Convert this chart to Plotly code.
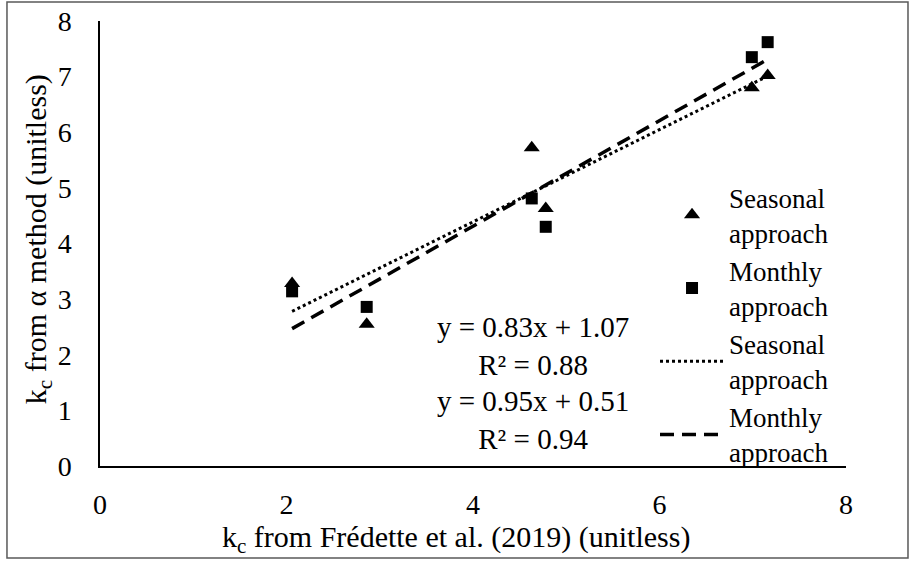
import plotly.graph_objects as go

# Data
x_points = [2.06, 2.86, 4.63, 4.78, 6.99, 7.16]
y_seasonal = [3.28, 2.55, 5.72, 4.63, 6.80, 7.02]
y_monthly = [3.14, 2.86, 4.81, 4.30, 7.35, 7.62]

trend_x = [2.06, 7.16]
trend_seasonal = [2.78, 7.01]
trend_monthly = [2.47, 7.31]

eq_seasonal = "y = 0.83x + 1.07<br>R² = 0.88"
eq_monthly = "y = 0.95x + 0.51<br>R² = 0.94"

x_title = "k<sub>c</sub> from Frédette et al. (2019) (unitless)"
y_title = "k<sub>c</sub> from α method (unitless)"

x_ticks = [0, 2, 4, 6, 8]
y_ticks = [0, 1, 2, 3, 4, 5, 6, 7, 8]

FONT = "Liberation Serif"

fig = go.Figure()
fig.add_trace(go.Scatter(
    x=x_points, y=y_seasonal, mode="markers", name="Seasonal<br>approach",
    marker=dict(symbol="triangle-up", size=14, color="black")))
fig.add_trace(go.Scatter(
    x=x_points, y=y_monthly, mode="markers", name="Monthly<br>approach",
    marker=dict(symbol="square", size=12, color="black")))
fig.add_trace(go.Scatter(
    x=trend_x, y=trend_seasonal, mode="lines", name="Seasonal<br>approach",
    line=dict(color="black", width=3, dash="3px,3px")))
fig.add_trace(go.Scatter(
    x=trend_x, y=trend_monthly, mode="lines", name="Monthly<br>approach",
    line=dict(color="black", width=3.5, dash="14px,8px")))

fig.add_annotation(x=4.64, y=2.16, xref="x", yref="y", text=eq_seasonal,
                   showarrow=False, align="center",
                   font=dict(family=FONT, size=29, color="black"))
fig.add_annotation(x=4.64, y=0.835, xref="x", yref="y", text=eq_monthly,
                   showarrow=False, align="center",
                   font=dict(family=FONT, size=29, color="black"))

# axis titles
fig.add_annotation(x=0.477, y=-0.165, xref="paper", yref="paper", text=x_title,
                   showarrow=False, xanchor="center", yanchor="middle",
                   font=dict(family=FONT, size=30, color="black"))
fig.add_annotation(x=-0.083, y=0.51, xref="paper", yref="paper", text=y_title,
                   showarrow=False, xanchor="center", yanchor="middle",
                   textangle=-90,
                   font=dict(family=FONT, size=30, color="black"))

# outer frame around the whole chart
fig.add_shape(type="rect", xref="paper", yref="paper",
              x0=-0.1247, x1=1.0831, y0=-0.2065, y1=1.0426,
              line=dict(color="#595959", width=1.5), layer="below")

fig.update_layout(
    width=910, height=561,
    margin=dict(l=100, r=64, t=21, b=94.5, autoexpand=False),
    paper_bgcolor="white", plot_bgcolor="white",
    font=dict(family=FONT, size=28, color="black"),
    showlegend=True,
    legend=dict(x=0.744, y=0.658, xanchor="left", yanchor="top",
                bgcolor="rgba(0,0,0,0)", borderwidth=0,
                font=dict(family=FONT, size=27, color="black"),
                tracegroupgap=0, itemwidth=64, traceorder="normal"),
    xaxis=dict(range=[0, 8], tickvals=x_ticks, showgrid=False, zeroline=False,
               showline=True, linecolor="black", linewidth=1.5, ticks="",
               ticklabelstandoff=13, tickfont=dict(size=28), automargin=False),
    yaxis=dict(range=[0, 8], tickvals=y_ticks, showgrid=False, zeroline=False,
               showline=True, linecolor="black", linewidth=1.5, ticks="",
               ticklabelstandoff=21, tickfont=dict(size=28), automargin=False),
)

fig.write_html("out.html")
